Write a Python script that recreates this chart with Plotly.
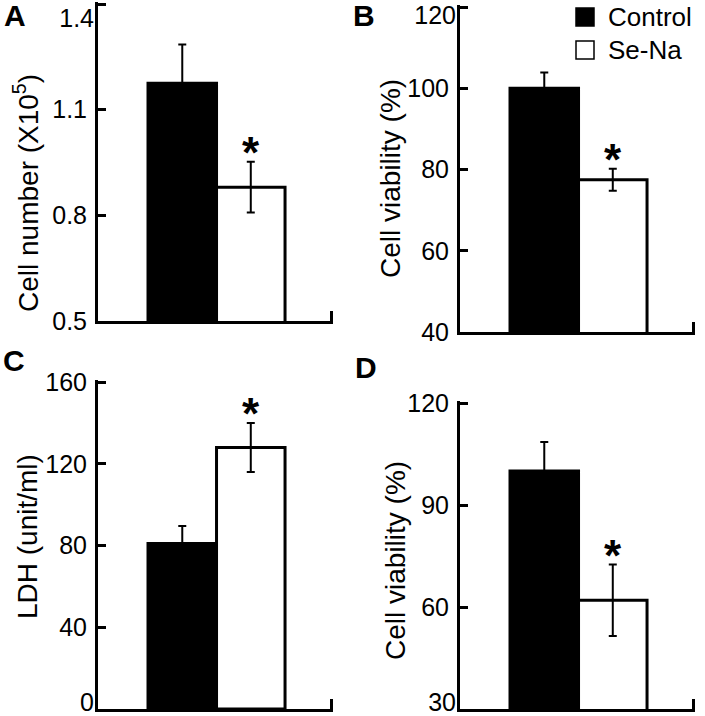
import plotly.graph_objects as go

W, H = 705, 716

series = ["Control", "Se-Na"]
bar_colors = ["black", "white"]

# Panel data
panel_letters = ["A", "B", "C", "D"]
titles = ["Cell number (X10<sup>5</sup>)", "Cell viability (%)", "LDH (unit/ml)", "Cell viability (%)"]

a_values = [1.175, 0.88]
a_errors = [0.11, 0.072]
b_values = [100, 77.5]
b_errors = [3.9, 2.7]
c_values = [81, 128]
c_errors = [8.5, 12]
d_values = [100, 62]
d_errors = [8.5, 10.5]

a_ticks = [0.5, 0.8, 1.1, 1.4]
b_ticks = [40, 60, 80, 100, 120]
c_ticks = [0, 40, 80, 120, 160]
d_ticks = [30, 60, 90, 120]
a_tick_text = ["0.5", "0.8", "1.1", "1.4"]

values = [a_values, b_values, c_values, d_values]
errors = [a_errors, b_errors, c_errors, d_errors]
ticks = [a_ticks, b_ticks, c_ticks, d_ticks]
tick_labels = [a_tick_text] + [[str(v) for v in t] for t in (b_ticks, c_ticks, d_ticks)]

# layout in pixels: (left, right, top, bottom)
boxes = [(98, 333, 4, 321), (460, 695, 7, 332), (98, 333, 382, 709), (460, 695, 403, 709)]
# the label sitting at the figure edge is carried by an overlay axis and nudged inward
edge_index = [-1, -1, 0, 0]
edge_shift = [14, 8, -7, -7]
xr = [-1.23, 2.2]
EXT = 2  # px of axis line beyond the top tick so that the end tick is drawn

FONT = "Liberation Sans, Arial, Helvetica, sans-serif"
TICKFONT = dict(family=FONT, size=25, color="black")

fig = go.Figure()
for i in range(4):
    ax = "" if i == 0 else str(i + 1)
    k = 5 + i
    l, r, t, b = boxes[i]
    lo, hi = ticks[i][0], ticks[i][-1]
    unit = (hi - lo) / (b - t)
    yr = [lo, hi + EXT * unit]
    ydom = [1 - b / H, 1 - (t - EXT) / H]

    for j, name in enumerate(series):
        fig.add_trace(go.Bar(
            x=[j], y=[values[i][j]], width=1, name=name,
            marker=dict(color=bar_colors[j], line=dict(color="black", width=3)),
            error_y=dict(type="data", array=[errors[i][j]], color="black", thickness=2, width=4),
            xaxis="x" + ax, yaxis=("y" + ax) if j == 0 else "y%d" % k, showlegend=False,
        ))

    fig.layout["xaxis" + ax] = dict(
        domain=[l / W, r / W], range=xr, anchor="y" + ax, automargin=False,
        showline=True, linecolor="black", linewidth=3, showgrid=False, zeroline=False,
        tickmode="array", tickvals=[xr[1] - 0.02], ticks="inside", ticklen=10, tickwidth=2.5,
        tickcolor="black", showticklabels=False, fixedrange=True,
    )
    labels = list(tick_labels[i])
    edge_label = labels[edge_index[i]]
    labels[edge_index[i]] = ""
    fig.layout["yaxis" + ax] = dict(
        domain=ydom, range=yr, anchor="x" + ax, automargin=False,
        showline=True, linecolor="black", linewidth=3, showgrid=False, zeroline=False,
        tickmode="array", tickvals=ticks[i], ticktext=labels, ticks="inside", ticklen=8,
        tickwidth=2.5, tickcolor="black", tickfont=TICKFONT,
        ticklabelstandoff=3, fixedrange=True,
    )
    fig.layout["yaxis%d" % k] = dict(
        domain=ydom, range=yr, overlaying="y" + ax, anchor="x" + ax, side="left",
        automargin=False, showline=False, showgrid=False, zeroline=False, visible=True,
        tickmode="array", tickvals=[ticks[i][edge_index[i]]], ticktext=[edge_label],
        ticks="", tickfont=TICKFONT, ticklabelshift=edge_shift[i],
        ticklabeloverflow="allow", ticklabelstandoff=3, fixedrange=True,
    )

# Significance asterisks over Se-Na
for i in range(4):
    ax = "" if i == 0 else str(i + 1)
    fig.add_annotation(
        x=1, y=values[i][1] + errors[i][1], xref="x" + ax, yref="y" + ax,
        text="<b>*</b>", showarrow=False, yanchor="bottom", yshift=-17,
        font=dict(family=FONT, size=44, color="black"),
    )

# y-axis titles
title_pos = [(26, 193), (390, 179), (27, 537), (395, 561)]
for i in range(4):
    x, y = title_pos[i]
    fig.add_annotation(
        x=x / W, y=1 - y / H, xref="paper", yref="paper", text=titles[i],
        textangle=-90, showarrow=False, xanchor="center", yanchor="middle",
        font=dict(family=FONT, size=28, color="black"),
    )

# panel letters
letter_pos = [(15, 16), (364, 16), (14, 360), (366, 367)]
for i in range(4):
    x, y = letter_pos[i]
    fig.add_annotation(
        x=x / W, y=1 - y / H, xref="paper", yref="paper", text="<b>" + panel_letters[i] + "</b>",
        showarrow=False, xanchor="center", yanchor="middle", borderpad=0,
        font=dict(family=FONT, size=30, color="black"),
    )

# legend (in panel B)
leg_rows = [17, 50]
for j, name in enumerate(series):
    yc = leg_rows[j]
    fig.add_shape(type="rect", xref="paper", yref="paper",
                  x0=576 / W, x1=594 / W, y0=1 - (yc + 9) / H, y1=1 - (yc - 9) / H,
                  fillcolor=bar_colors[j], line=dict(color="black", width=1.5))
    fig.add_annotation(x=606 / W, y=1 - yc / H, xref="paper", yref="paper", text=name,
                       showarrow=False, xanchor="left", yanchor="middle",
                       font=dict(family=FONT, size=26, color="black"))

fig.update_layout(
    width=W, height=H, margin=dict(l=0, r=0, t=0, b=0),
    paper_bgcolor="white", plot_bgcolor="white", barmode="overlay",
    showlegend=False,
)

fig.write_html("out.html", config={"displayModeBar": False},
               post_script="document.body.style.margin='0';")
